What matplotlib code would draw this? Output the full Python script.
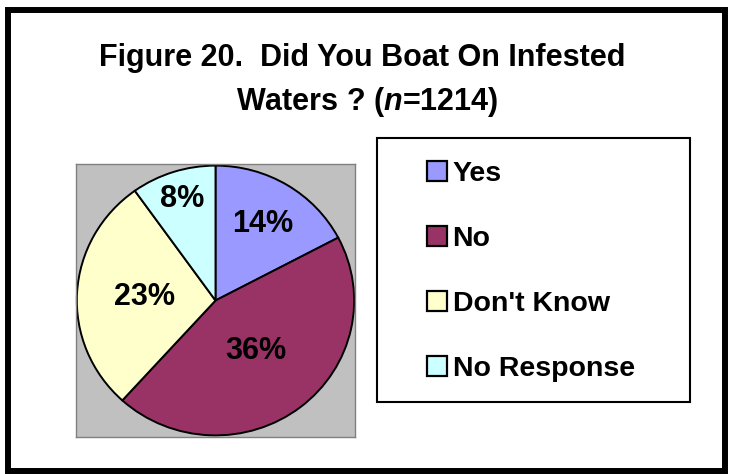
import numpy as np
import matplotlib
matplotlib.use("Agg")
import matplotlib.pyplot as plt
from matplotlib.patches import Rectangle

plt.rcParams['font.family'] = ['Liberation Sans', 'DejaVu Sans']
plt.rcParams['font.weight'] = 'bold'
plt.rcParams['mathtext.fontset'] = 'custom'
plt.rcParams['mathtext.rm'] = 'Liberation Sans:bold'
plt.rcParams['mathtext.it'] = 'Liberation Sans:bold:italic'

# data
categories = ["Yes", "No", "Don't Know", "No Response"]
percents = [14, 36, 23, 8]
colors = ["#9999FF", "#993366", "#FFFFCC", "#CCFFFF"]
title_lines = ["Figure 20.  Did You Boat On Infested", r"Waters ? ($n$=1214)"]

# label distance from centre (fraction of radius) per slice
label_dist = [0.66, 0.47, 0.51, 0.79]

W, H = 730, 474
fig = plt.figure(figsize=(W / 100, H / 100), dpi=100)


def fx(px):
    return px / W


def fy(py):
    return 1 - py / H


# outer border
fig.patches.append(Rectangle((fx(8), fy(471)), fx(725) - fx(8), fy(10) - fy(471),
                             transform=fig.transFigure, fill=False,
                             edgecolor='black', linewidth=4.3))

# title
fig.text(fx(362), fy(66), title_lines[0], ha='center', va='baseline',
         fontsize=22, fontweight='bold')
fig.text(fx(367), fy(110), title_lines[1], ha='center', va='baseline',
         fontsize=22, fontweight='bold')

# pie plot area
ax = fig.add_axes([fx(76), fy(437), fx(355) - fx(76), fy(164) - fy(437)])
wedges, _ = ax.pie(percents, colors=colors, startangle=90, counterclock=False,
                   wedgeprops=dict(edgecolor='black', linewidth=1.4))
ax.set_aspect('auto')
ax.set_xlim(-1.006, 1.006)
ax.set_ylim(-1.012, 1.012)
ax.set_frame_on(True)
ax.set_facecolor('#C0C0C0')
for s in ax.spines.values():
    s.set_edgecolor('#808080')
    s.set_linewidth(1.0)
ax.set_xticks([])
ax.set_yticks([])

for w, p, d in zip(wedges, percents, label_dist):
    mid = np.deg2rad((w.theta1 + w.theta2) / 2)
    ax.text(d * np.cos(mid), d * np.sin(mid), f"{p}%", ha='center', va='center',
            fontsize=22, fontweight='bold')

# legend box
fig.patches.append(Rectangle((fx(377), fy(402)), fx(690) - fx(377), fy(138) - fy(402),
                             transform=fig.transFigure, fill=False,
                             edgecolor='black', linewidth=1.5))

leg = ax.legend(wedges, categories, loc='center left',
                bbox_to_anchor=(fx(427), fy(271.5)), bbox_transform=fig.transFigure,
                frameon=False, fontsize=20.5, handlelength=0.70, handleheight=0.70,
                handletextpad=0.2, labelspacing=1.36, borderpad=0, borderaxespad=0)
for t in leg.get_texts():
    t.set_fontweight('bold')
for h in leg.legend_handles:
    h.set_linewidth(1.6)

fig.savefig("out.png", dpi=100)
